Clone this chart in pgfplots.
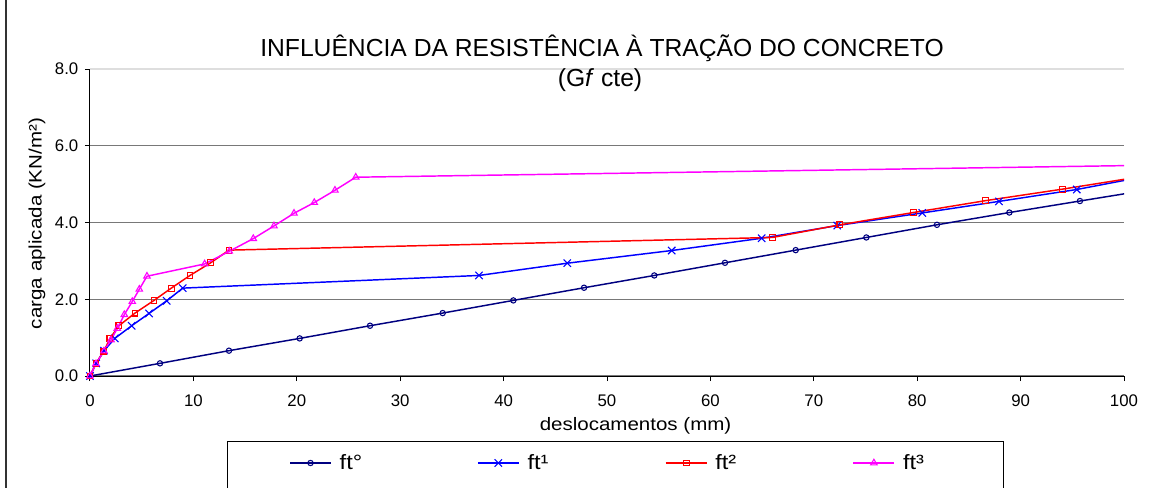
\documentclass[border=0pt]{standalone}
\usepackage{pgfplots}
\pgfplotsset{compat=1.18}
\usepackage{fontspec}
\setmainfont{Liberation Sans}
\usepackage{graphicx}
\definecolor{cnavy}{RGB}{0,0,128}
\definecolor{cblue}{RGB}{0,0,255}
\definecolor{cred}{RGB}{255,0,0}
\definecolor{cmag}{RGB}{255,0,255}
\definecolor{cgrid}{RGB}{120,120,120}
\definecolor{clgrid}{RGB}{222,222,222}

\pgfplotstableread{
x y
0 0
6.77 0.33
13.44 0.66
20.28 0.98
27.08 1.31
34.11 1.64
40.94 1.97
47.78 2.30
54.57 2.62
61.41 2.95
68.25 3.28
75.08 3.61
81.91 3.94
88.91 4.26
95.74 4.56
102.6 4.86
}\ftzero
\pgfplotstableread{
x y
0 0
0.60 0.33
1.35 0.66
2.40 0.98
4.03 1.31
5.71 1.63
7.42 1.96
8.97 2.29
37.62 2.62
46.16 2.94
56.26 3.27
64.96 3.59
72.27 3.92
80.49 4.25
87.91 4.55
95.43 4.86
103.0 5.25
}\ftone
\pgfplotstableread{
x y
0 0
0.58 0.33
1.35 0.65
1.93 0.98
2.80 1.31
4.35 1.64
6.19 1.97
7.86 2.29
9.67 2.62
11.67 2.95
13.44 3.28
65.99 3.61
72.53 3.94
79.62 4.26
86.62 4.57
94.07 4.87
101.5 5.19
}\fttwo
\pgfplotstableread{
x y
0 0
0.58 0.32
1.35 0.65
2.03 0.94
2.64 1.24
3.32 1.60
4.09 1.94
4.77 2.26
5.51 2.60
11.09 2.92
13.47 3.25
15.79 3.58
17.79 3.91
19.73 4.24
21.69 4.52
23.69 4.84
25.70 5.18
102.0 5.49
}\ftthree

\begin{document}
\begin{tikzpicture}
\begin{axis}[
  width=775.5pt, height=230.25pt, scale only axis,
  at={(0pt,0pt)}, anchor=south west,
  xmin=0, xmax=100, ymin=0, ymax=8,
  axis x line*=bottom, axis y line*=left,
  axis line style={black, line width=0.75pt},
  xtick={0,10,...,100},
  ytick={0,2,4,6},
  extra y ticks={8},
  extra y tick style={grid style={color=clgrid, line width=0.9pt}},
  ymajorgrids,
  grid style={color=cgrid, line width=1pt},
  tick align=outside,
  major tick length=3.75pt,
  tick style={black, line width=0.75pt},
  /pgf/number format/assume math mode=true,
  tick label style={font=\fontsize{12.6}{14}\selectfont},
  xticklabel style={yshift=-7pt},
  yticklabel style={xshift=-1.5pt, /pgf/number format/.cd, fixed, fixed zerofill, precision=1},
  xlabel={\scalebox{1.14}[1]{deslocamentos (mm)}},
  xlabel style={at={(rel axis cs:0.5276,-0.1629)}, anchor=center, font=\fontsize{13.5}{15}\selectfont},
  ylabel={\scalebox{1.14}[1]{carga aplicada (KN/m²)}},
  ylabel style={at={(rel axis cs:-0.0513,0.4967)}, anchor=center, font=\fontsize{13.5}{15}\selectfont},
  legend columns=4,
  legend cell align=left,
  legend style={draw=none, fill=none, at={(0.19246,-0.28339)}, anchor=west,
    font=\fontsize{15.5}{17}\selectfont, inner sep=0pt},
  legend image code/.code={\draw[mark repeat=2,mark phase=2] plot coordinates {(0pt,0pt) (15.375pt,0pt) (30.75pt,0pt)};},
]
\addplot[color=cnavy, line width=1.1pt, mark=o, mark size=2pt, mark options={solid, fill=white, line width=0.8pt}] table[x=x,y=y] {\ftzero};
\addlegendentry{\makebox[105pt][l]{\hspace*{4pt}\scalebox{1.14}[1]{ft°}}}
\addplot[color=cblue, line width=1.1pt, mark=x, mark size=3.9pt, mark options={solid, line width=0.8pt}] table[x=x,y=y] {\ftone};
\addlegendentry{\makebox[105pt][l]{\hspace*{4pt}\scalebox{1.14}[1]{ft¹}}}
\addplot[color=cred, line width=1.1pt, mark=square, mark size=2.2pt, mark options={solid, fill=white, line width=0.8pt}] table[x=x,y=y] {\fttwo};
\addlegendentry{\makebox[105pt][l]{\hspace*{4pt}\scalebox{1.14}[1]{ft²}}}
\addplot[color=cmag, line width=1.1pt, mark=triangle, mark size=2.8pt, mark options={solid, fill=white, line width=0.8pt}] table[x=x,y=y] {\ftthree};
\addlegendentry{\makebox[105pt][l]{\hspace*{4pt}\scalebox{1.14}[1]{ft³}}}
\end{axis}
\node[font=\fontsize{18.5}{22}\selectfont, anchor=base] at (384pt,240pt) {INFLUÊNCIA DA RESISTÊNCIA À TRAÇÃO DO CONCRETO};
\node[font=\fontsize{18.5}{22}\selectfont, anchor=base] at (382.5pt,217.5pt) {(G\textit{f} cte)};
\draw[line width=0.75pt] (102.75pt,-48.75pt) rectangle (684.75pt,-100pt);
\draw[line width=1pt, black!80] (-63pt,-100pt) -- (-63pt,300pt);
\pgfresetboundingbox
\useasboundingbox (-67.5pt,-83.25pt) rectangle (803.25pt,282pt);
\end{tikzpicture}
\end{document}
